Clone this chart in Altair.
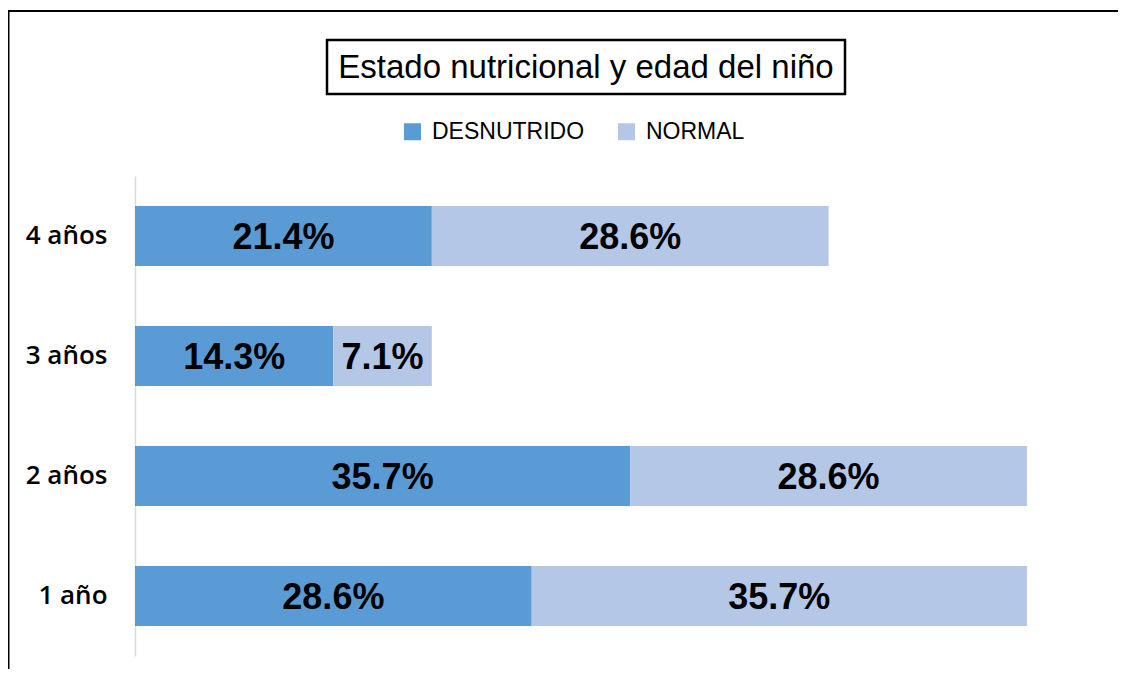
import altair as alt
import pandas as pd

edades = ["1 año", "2 años", "3 años", "4 años"]
desnutrido = [28.6, 35.7, 14.3, 21.4]
normal = [35.7, 28.6, 7.1, 28.6]
series = ["DESNUTRIDO", "NORMAL"]
colores = ["#5B9BD5", "#B4C7E7"]
titulo = "Estado nutricional y edad del niño"

rows = []
for i, e in enumerate(edades):
    rows.append({"edad": e, "estado": series[0], "valor": desnutrido[i], "ord": 0})
    rows.append({"edad": e, "estado": series[1], "valor": normal[i], "ord": 1})
df = pd.DataFrame(rows)

orden_y = ["4 años", "3 años", "2 años", "1 año"]
xscale = alt.Scale(domain=[0, 70], nice=False, zero=True)
yscale = alt.Scale(domain=orden_y, paddingInner=0.5, paddingOuter=0.25)

base = alt.Chart(df).transform_stack(
    stack="valor", groupby=["edad"], as_=["x0", "x1"], sort=[alt.SortField("ord", order="ascending")]
).transform_calculate(
    mid="(datum.x0 + datum.x1) / 2",
    lab="format(datum.valor, '.1f') + '%'",
)

bars = base.mark_bar().encode(
    x=alt.X("x0:Q", scale=xscale, axis=None),
    x2="x1:Q",
    y=alt.Y("edad:N", scale=yscale, sort=orden_y,
            axis=alt.Axis(title=None, ticks=False, labelFontSize=26, labelFont="Open Sans",
                          labelFontWeight=600, labelColor="#000000", labelPadding=28,
                          domainColor="#D9D9D9", domainWidth=1.5)),
    color=alt.Color("estado:N", scale=alt.Scale(domain=series, range=colores),
                    legend=alt.Legend(title=None, orient="none", legendX=266, legendY=-56,
                                      direction="horizontal", symbolType="square",
                                      symbolSize=289, symbolStrokeWidth=0,
                                      labelFontSize=23, labelFont="Liberation Sans",
                                      labelColor="#000000", labelOffset=8, columnPadding=30)),
)

labels = base.mark_text(font="Liberation Sans", fontWeight="bold", fontSize=36,
                        color="#000000", baseline="middle", dy=2).encode(
    x=alt.X("mid:Q", scale=xscale),
    y=alt.Y("edad:N", scale=yscale, sort=orden_y),
    text="lab:N",
)

deco = pd.DataFrame({"t": [titulo]})
box = alt.Chart(deco).mark_rect(fill="white", stroke="black", strokeWidth=2.5).encode(
    x=alt.value(192), x2=alt.value(710), y=alt.value(-136), y2=alt.value(-82))
title_txt = alt.Chart(deco).mark_text(font="Liberation Sans", fontSize=33, color="#000000",
                                      baseline="middle", align="center").encode(
    x=alt.value(451), y=alt.value(-108), text="t:N")
frame_top = alt.Chart(deco).mark_rule(color="black", strokeWidth=2).encode(
    x=alt.value(-127), x2=alt.value(1000), y=alt.value(-165))
frame_left = alt.Chart(deco).mark_rule(color="black", strokeWidth=2).encode(
    x=alt.value(-126.5), y=alt.value(-165), y2=alt.value(520))

chart = alt.layer(frame_top, frame_left, box, title_txt, bars, labels).properties(
    width=971, height=480, autosize="none", background="white",
    padding={"left": 127, "top": 168, "right": 12, "bottom": 13},
).configure_view(strokeWidth=0)

chart.save("out.html", embed_options={"renderer": "svg", "actions": False})
